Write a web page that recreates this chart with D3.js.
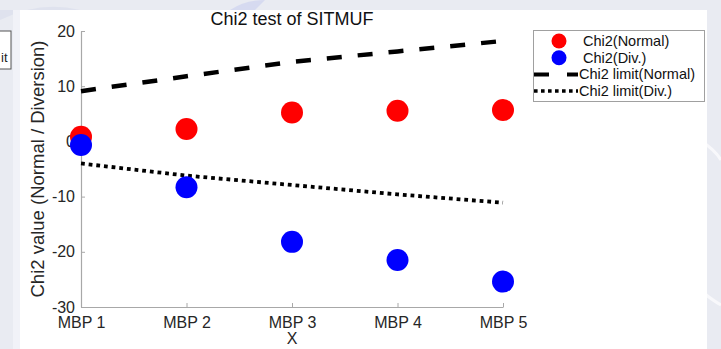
<!DOCTYPE html>
<html>
<head>
<meta charset="utf-8">
<script src="https://cdn.jsdelivr.net/npm/d3@7"></script>
<style>
  body { margin: 0; background: #eceef4; }
  svg { display: block; font-family: "Liberation Sans", Arial, sans-serif; }
</style>
</head>
<body>
<svg id="chart" width="721" height="349"></svg>
<script>
// data
const categories = ["MBP 1", "MBP 2", "MBP 3", "MBP 4", "MBP 5"];
const chi2Normal = [0.85, 2.25, 5.25, 5.55, 5.7];
const chi2Div = [-0.65, -8.3, -18.2, -21.5, -25.4];
const limitNormal = [9.1, 11.8, 14.4, 16.3, 18.2];
const limitDiv = [-4.0, -6.2, -7.9, -9.6, -11.1];
const yTicks = [-30, -20, -10, 0, 10, 20];

const svg = d3.select("#chart");

// backdrop of the page the figure was cut from
const bg = svg.append("g");
bg.append("rect").attr("width", 721).attr("height", 349).attr("fill", "#e9ebf2");
bg.append("path").attr("d", "M0,20 Q40,0 80,10 L0,10Z").attr("fill", "#dfe2ee");
bg.append("path").attr("d", "M230,10 Q245,0 265,0 L255,10Z").attr("fill", "#d6daf0");
bg.append("path").attr("d", "M700,140 Q715,150 721,160").attr("stroke", "#f8f8fb").attr("stroke-width", 3).attr("fill", "none");
bg.append("path").attr("d", "M700,290 Q712,300 721,305").attr("stroke", "#f8f8fb").attr("stroke-width", 3).attr("fill", "none");
bg.append("rect").attr("x", 13).attr("y", 10).attr("width", 694).attr("height", 339).attr("fill", "#ffffff");
bg.append("rect").attr("x", 13).attr("y", 10).attr("width", 7).attr("height", 339).attr("fill", "#f1f2f8");

// cut-off legend of a neighbouring figure
bg.append("rect").attr("x", -2).attr("y", 31).attr("width", 13).attr("height", 38)
  .attr("fill", "#fff").attr("stroke", "#555").attr("stroke-width", 1);
bg.append("text").attr("x", 1).attr("y", 62).style("font-size", "13px").attr("fill", "#222").text("it");

const x = d3.scalePoint().domain(categories).range([81, 503]);
const y = d3.scaleLinear().domain([-30, 20]).range([307, 31]);

const g = svg.append("g");

// axes, MATLAB style: ticks pointing inward
const xAxis = g.append("g")
  .attr("transform", `translate(0,${y(-30)})`)
  .call(d3.axisBottom(x).tickSizeInner(-4).tickSizeOuter(0).tickPadding(10));
const yAxis = g.append("g")
  .attr("transform", `translate(${x(categories[0])},0)`)
  .call(d3.axisLeft(y).tickValues(yTicks).tickFormat(d => String(d))
    .tickSizeInner(-4).tickSizeOuter(0).tickPadding(6));

[xAxis, yAxis].forEach(a => {
  a.select(".domain").attr("stroke", "#a8a8a8").attr("stroke-width", 1.2);
  a.selectAll(".tick line").attr("stroke", "#a8a8a8");
  a.selectAll(".tick text").attr("fill", "#262626").style("font-size", "16px")
    .style("font-family", "'Liberation Sans', Arial, sans-serif");
});

const line = d3.line().x((d, i) => x(categories[i])).y(d => y(d));

g.append("path").datum(limitNormal)
  .attr("d", line).attr("fill", "none").attr("stroke", "#000")
  .attr("stroke-width", 4.5).attr("stroke-dasharray", "15,16");
g.append("path").datum(limitDiv)
  .attr("d", line).attr("fill", "none").attr("stroke", "#000")
  .attr("stroke-width", 3.8).attr("stroke-dasharray", "3.8,3.9");

g.selectAll(".pn").data(chi2Normal).enter().append("circle")
  .attr("cx", (d, i) => x(categories[i])).attr("cy", d => y(d))
  .attr("r", 11).attr("fill", "#ff0000");
g.selectAll(".pd").data(chi2Div).enter().append("circle")
  .attr("cx", (d, i) => x(categories[i])).attr("cy", d => y(d))
  .attr("r", 11).attr("fill", "#0000ff");

// title and labels
svg.append("text").attr("x", 292).attr("y", 25).attr("text-anchor", "middle")
  .style("font-size", "18px").attr("fill", "#111").text("Chi2 test of SITMUF");
svg.append("text").attr("x", 292).attr("y", 344).attr("text-anchor", "middle")
  .style("font-size", "16px").attr("fill", "#262626").text("X");
svg.append("text").attr("transform", "translate(44,169) rotate(-90)").attr("text-anchor", "middle")
  .style("font-size", "18.5px").attr("fill", "#262626").text("Chi2 value (Normal / Diversion)");

// legend
const lg = svg.append("g");
lg.append("rect").attr("x", 533.5).attr("y", 30.5).attr("width", 171).attr("height", 71)
  .attr("fill", "#fff").attr("stroke", "#a0a0a0").attr("stroke-width", 1);
const items = [
  { label: "Chi2(Normal)", type: "dot", color: "#ff0000", tx: 583 },
  { label: "Chi2(Div.)", type: "dot", color: "#0000ff", tx: 583 },
  { label: "Chi2 limit(Normal)", type: "dash", tx: 579 },
  { label: "Chi2 limit(Div.)", type: "dot2", tx: 579 }
];
items.forEach((it, i) => {
  const cy = 41 + i * 16.7;
  if (it.type === "dot") {
    lg.append("circle").attr("cx", 559).attr("cy", cy).attr("r", 7.5).attr("fill", it.color);
  } else if (it.type === "dash") {
    lg.append("line").attr("x1", 534).attr("x2", 578).attr("y1", cy).attr("y2", cy)
      .attr("stroke", "#000").attr("stroke-width", 4).attr("stroke-dasharray", "15,18");
  } else {
    lg.append("line").attr("x1", 534).attr("x2", 578).attr("y1", cy).attr("y2", cy)
      .attr("stroke", "#000").attr("stroke-width", 3.5).attr("stroke-dasharray", "3.6,3.4");
  }
  lg.append("text").attr("x", it.tx).attr("y", cy + 5).style("font-size", "14.5px")
    .attr("fill", "#111").text(it.label);
});
</script>
</body>
</html>
